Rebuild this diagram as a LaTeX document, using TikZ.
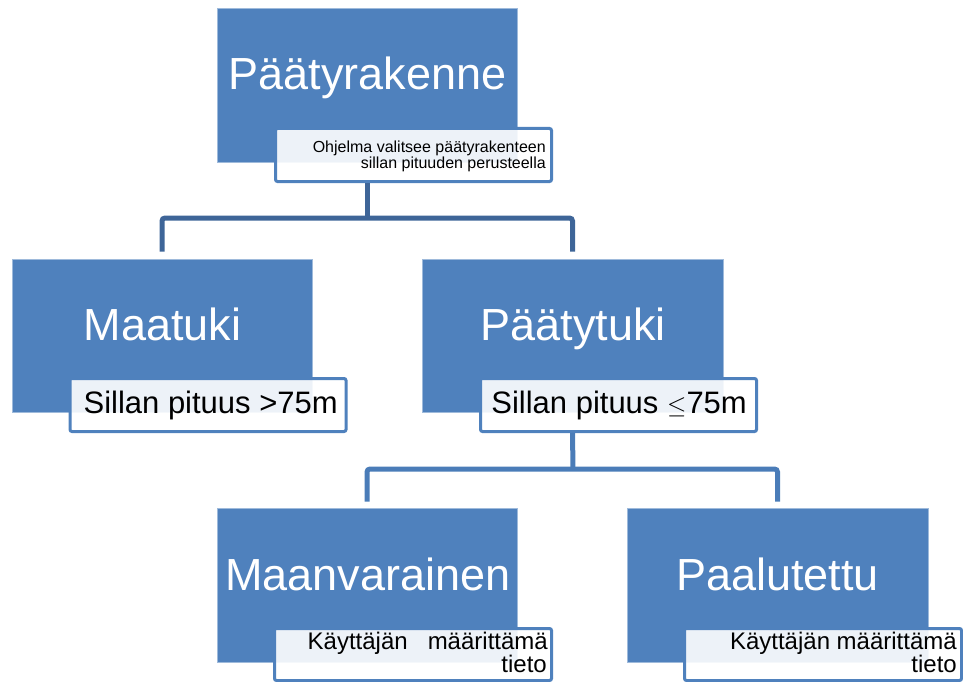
\documentclass[tikz,border=0pt]{standalone}
\usepackage{fontspec}
\setmainfont{Liberation Sans}
\usetikzlibrary{calc}
\definecolor{boxblue}{HTML}{4F81BD}
\definecolor{linkA}{HTML}{3E6598}
\definecolor{linkB}{HTML}{4A7CB8}
\begin{document}
\begin{tikzpicture}[x=1pt,y=-1pt,
  mainbox/.style={rectangle, fill=boxblue, draw=boxblue!55!white, line width=0.6pt, inner sep=0pt},
  subbox/.style={rectangle, draw=boxblue, line width=3pt, rounded corners=2pt, fill=white, fill opacity=0.9, inner sep=0pt, minimum width=276pt, minimum height=53pt},
  title/.style={anchor=base, text=white, inner sep=0pt, font=\fontsize{45}{54}\selectfont},
  subtxt/.style={anchor=base east, text=black, inner sep=0pt},
  conn/.style={line width=5pt, rounded corners=3pt}
]
\useasboundingbox (0,0) rectangle (963,682);

% main boxes
\node[mainbox, minimum width=300pt, minimum height=154pt] (b1) at (367,85) {};
\node[mainbox, minimum width=300pt, minimum height=153pt] (b2) at (162,335.5) {};
\node[mainbox, minimum width=301pt, minimum height=153pt] (b3) at (572.5,335.5) {};
\node[mainbox, minimum width=300pt, minimum height=154pt] (b4) at (367,585) {};
\node[mainbox, minimum width=301pt, minimum height=154pt] (b5) at (777.5,585) {};

% sub boxes
\node[subbox] (s1) at (413.5,155) {};
\node[subbox] (s2) at (208,405) {};
\node[subbox] (s3) at (618.5,405) {};
\node[subbox, minimum width=277pt, minimum height=52pt] (s4) at (413,654.5) {};
\node[subbox, minimum width=277pt, minimum height=52pt] (s5) at (823,654.5) {};

\coordinate (j1) at (367,218);
\coordinate (j2) at (573,469);

% titles
\node[title] (t1) at (367.5,90) {Päätyrakenne};
\node[title] (t2) at (162.5,340) {Maatuki};
\node[title] (t3) at (573,340) {Päätytuki};
\node[title] (t4) at (368,590) {Maanvarainen};
\node[title] (t5) at (777.5,590) {Paalutettu};

% sub texts
\node[subtxt, font=\fontsize{16}{16}\selectfont] (u1a) at (546,152) {Ohjelma valitsee päätyrakenteen};
\node[subtxt, font=\fontsize{16}{16}\selectfont] (u1b) at (546,168) {sillan pituuden perusteella};
\node[subtxt, font=\fontsize{31}{36}\selectfont] (u2) at (338,413) {Sillan pituus >75m};
\node[subtxt, font=\fontsize{31}{36}\selectfont] (u3) at (747,413) {Sillan pituus $\leq$75m};
\node[subtxt, font=\fontsize{24}{27}\selectfont] (u4a) at (548,649) {Käyttäjän\hspace{20pt}määrittämä};
\node[subtxt, font=\fontsize{24}{27}\selectfont] (u4b) at (547,672) {tieto};
\node[subtxt, font=\fontsize{24}{27}\selectfont] (u5a) at (957,649) {Käyttäjän määrittämä};
\node[subtxt, font=\fontsize{24}{27}\selectfont] (u5b) at (957,672) {tieto};

% connectors
\draw[conn, draw=linkA] (b1.south |- s1.south) -- (j1);
\draw[conn, draw=linkA] ([yshift=7pt]b2.north) -- (b2.north |- j1) -- (b3.north |- j1) -- ([yshift=7pt]b3.north);
\draw[conn, draw=linkB] (b3.south |- s3.south) -- (j2);
\draw[conn, draw=linkB] ([yshift=6pt]b4.north) -- (b4.north |- j2) -- (b5.north |- j2) -- ([yshift=6pt]b5.north);
\end{tikzpicture}
\end{document}
